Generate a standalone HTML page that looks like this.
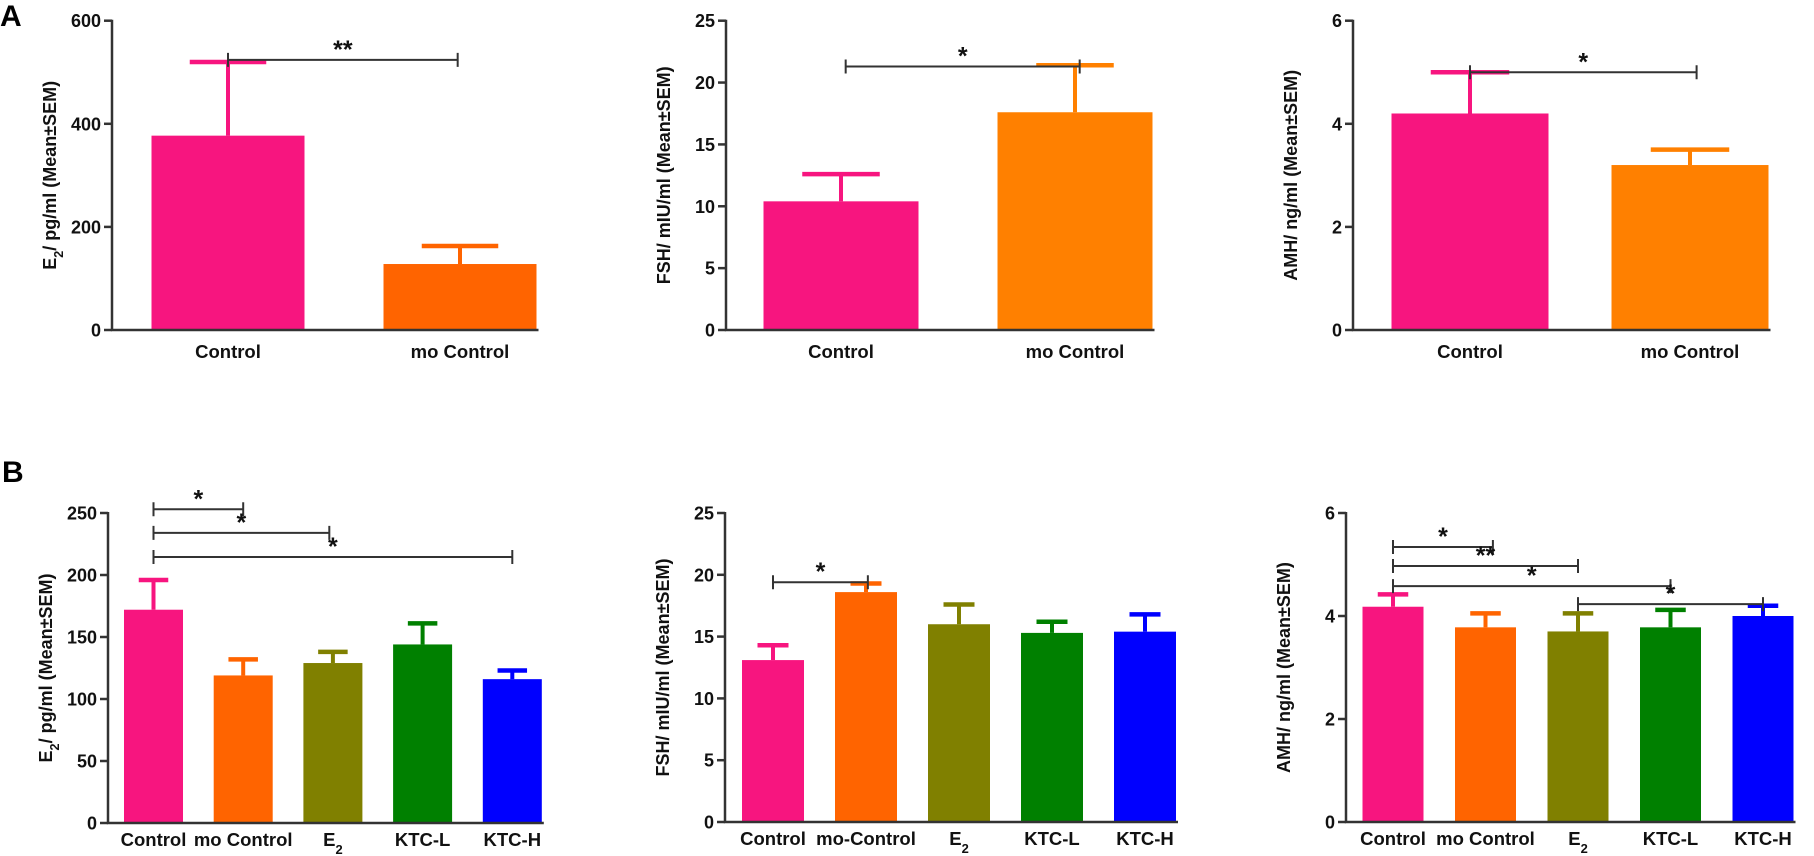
<!DOCTYPE html>
<html><head><meta charset="utf-8"><style>
html,body{margin:0;padding:0;background:#fff;}
svg{display:block;font-family:"Liberation Sans",Arial,sans-serif;}
</style></head><body>
<svg id="fig" width="1814" height="856" viewBox="0 0 1814 856" xmlns="http://www.w3.org/2000/svg">
<text x="0" y="26" font-size="30" font-weight="bold">A</text>
<text x="2" y="482" font-size="30" font-weight="bold">B</text>
</svg>
<script>
// ---- data ----
const catsA = ["Control", "mo Control"];
const catsB1 = ["Control", "mo Control", "E2", "KTC-L", "KTC-H"];
const catsB2 = ["Control", "mo-Control", "E2", "KTC-L", "KTC-H"];
const catsB3 = ["Control", "mo Control", "E2", "KTC-L", "KTC-H"];

const a1Mean = [377, 128];
const a1Err = [520, 163];
const a2Mean = [10.4, 17.6];
const a2Err = [12.6, 21.4];
const a3Mean = [4.2, 3.2];
const a3Err = [5.0, 3.5];

const b1Mean = [172, 119, 129, 144, 116];
const b1Err = [196, 132, 138, 161, 123];
const b2Mean = [13.1, 18.6, 16.0, 15.3, 15.4];
const b2Err = [14.3, 19.3, 17.6, 16.2, 16.8];
const b3Mean = [4.18, 3.78, 3.70, 3.78, 4.00];
const b3Err = [4.42, 4.05, 4.05, 4.12, 4.20];

const ticksA1 = [0, 200, 400, 600];
const ticks25 = [0, 5, 10, 15, 20, 25];
const ticks6 = [0, 2, 4, 6];
const ticksB1 = [0, 50, 100, 150, 200, 250];

// significance brackets: [fromIndex, toIndex, value, label]
const sigA1 = [[0, 0.99, 524, "**"]];
const sigA2 = [[0.02, 1.02, 21.3, "*"]];
const sigA3 = [[0, 1.03, 5.0, "*"]];
const sigB1 = [[0, 1, 253, "*"], [0, 1.96, 234, "*"], [0, 4, 214.5, "*"]];
const sigB2 = [[0, 1.02, 19.4, "*"]];
const sigB3 = [[0, 1.08, 5.34, "*"], [0, 2, 4.97, "**"], [0, 3, 4.58, "*"], [2, 4, 4.23, "*"]];

const colA1 = ["#f7157f", "#ff6400"];
const colA2 = ["#f7157f", "#ff8000"];
const colB = ["#f7157f", "#ff6400", "#808000", "#008000", "#0000ff"];

const NS = "http://www.w3.org/2000/svg";
const svg = document.getElementById("fig");
function mk(tag, attrs, parent) {
  const e = document.createElementNS(NS, tag);
  for (const k in attrs) e.setAttribute(k, attrs[k]);
  (parent || svg).appendChild(e);
  return e;
}
function addLabel(el, txt) {
  if (txt.indexOf("E2") === 0) {
    el.appendChild(document.createTextNode("E"));
    const s = document.createElementNS(NS, "tspan");
    s.setAttribute("baseline-shift", "sub");
    s.setAttribute("font-size", "0.7em");
    s.textContent = "2";
    el.appendChild(s);
    el.appendChild(document.createTextNode(txt.slice(2)));
  } else el.textContent = txt;
}

function panel(p) {
  const g = mk("g", {});
  
  
  const y = v => p.bottom - (v / p.yMax) * (p.bottom - p.top);
  const x = i => p.c0 + i * p.step;
  p.cats.forEach((c, i) => {
    const cx = x(i);
    const eb = mk("line", {x1: cx, x2: cx, y1: y(p.err[i]), y2: y(p.mean[i]), stroke: p.colors[i], "stroke-width": 4}, g);
    
    
    const cap = mk("line", {x1: cx - p.w / 4, x2: cx + p.w / 4, y1: y(p.err[i]), y2: y(p.err[i]), stroke: p.colors[i], "stroke-width": 4.5}, g);
    
    
    const r = mk("rect", {x: cx - p.w / 2, y: y(p.mean[i]), width: p.w, height: y(0) - y(p.mean[i]), fill: p.colors[i]}, g);
    
    
    const t = mk("text", {x: cx, y: p.bottom + p.labOff, "font-size": 18.5, "font-weight": "bold", "text-anchor": "middle", fill: "#111"}, g);
    addLabel(t, c);
    
    
  });
  const ax = mk("path", {d: `M${p.axisX},${p.top - 1}V${p.bottom}H${x(p.cats.length - 1) + p.w / 2 + 2}`, stroke: "#333", "stroke-width": 2.5, fill: "none"}, g);
  
  
  p.ticks.forEach(v => {
    const tl = mk("line", {x1: p.axisX - 8, x2: p.axisX, y1: y(v), y2: y(v), stroke: "#333", "stroke-width": 2.5}, g);
    
    
    const tt = mk("text", {x: p.axisX - 11, y: y(v) + 6.5, "font-size": 18, "font-weight": "bold", "text-anchor": "end", fill: "#111"}, g);
    tt.textContent = v;
    
    
  });
  const my = (p.top + p.bottom) / 2;
  const tx = p.axisX - 56;
  const yt = mk("text", {x: tx, y: my, "font-size": 18, "font-weight": "bold", "text-anchor": "middle", transform: `rotate(-90 ${tx} ${my})`, fill: "#111"}, g);
  addLabel(yt, p.title);
  
  
  p.sig.forEach(s => {
    const x1 = x(s[0]), x2 = x(s[1]), yy = y(s[2]);
    const sp = mk("path", {d: `M${x1},${yy - 7}V${yy + 7}M${x1},${yy}H${x2}M${x2},${yy - 7}V${yy + 7}`, stroke: "#333", "stroke-width": 2, fill: "none"}, g);
    
    
    const st = mk("text", {x: (x1 + x2) / 2, y: yy - 2, "font-size": 25, "font-weight": "bold", "text-anchor": "middle", fill: "#111"}, g);
    st.textContent = s[3];
    
    
  });
}

panel({name: "chart-a-e2", cats: catsA, mean: a1Mean, err: a1Err, colors: colA1, ticks: ticksA1, yMax: 600, sig: sigA1,
  axisX: 112, top: 20.7, bottom: 330, c0: 228, step: 232, w: 153, labOff: 28, title: "E2/ pg/ml (Mean±SEM)"});
panel({name: "chart-a-fsh", cats: catsA, mean: a2Mean, err: a2Err, colors: colA2, ticks: ticks25, yMax: 25, sig: sigA2,
  axisX: 726, top: 20.7, bottom: 330, c0: 841, step: 234, w: 155, labOff: 28, title: "FSH/ mIU/ml (Mean±SEM)"});
panel({name: "chart-a-amh", cats: catsA, mean: a3Mean, err: a3Err, colors: colA2, ticks: ticks6, yMax: 6, sig: sigA3,
  axisX: 1353, top: 20.7, bottom: 330, c0: 1470, step: 220, w: 157, labOff: 28, title: "AMH/ ng/ml (Mean±SEM)"});
panel({name: "chart-b-e2", cats: catsB1, mean: b1Mean, err: b1Err, colors: colB, ticks: ticksB1, yMax: 250, sig: sigB1,
  axisX: 108, top: 513, bottom: 823, c0: 153.5, step: 89.7, w: 59, labOff: 23, title: "E2/ pg/ml (Mean±SEM)"});
panel({name: "chart-b-fsh", cats: catsB2, mean: b2Mean, err: b2Err, colors: colB, ticks: ticks25, yMax: 25, sig: sigB2,
  axisX: 725, top: 513, bottom: 822, c0: 773, step: 93, w: 62, labOff: 23, title: "FSH/ mIU/ml (Mean±SEM)"});
panel({name: "chart-b-amh", cats: catsB3, mean: b3Mean, err: b3Err, colors: colB, ticks: ticks6, yMax: 6, sig: sigB3,
  axisX: 1346, top: 513, bottom: 822, c0: 1393, step: 92.5, w: 61, labOff: 23, title: "AMH/ ng/ml (Mean±SEM)"});
</script>
</body></html>
